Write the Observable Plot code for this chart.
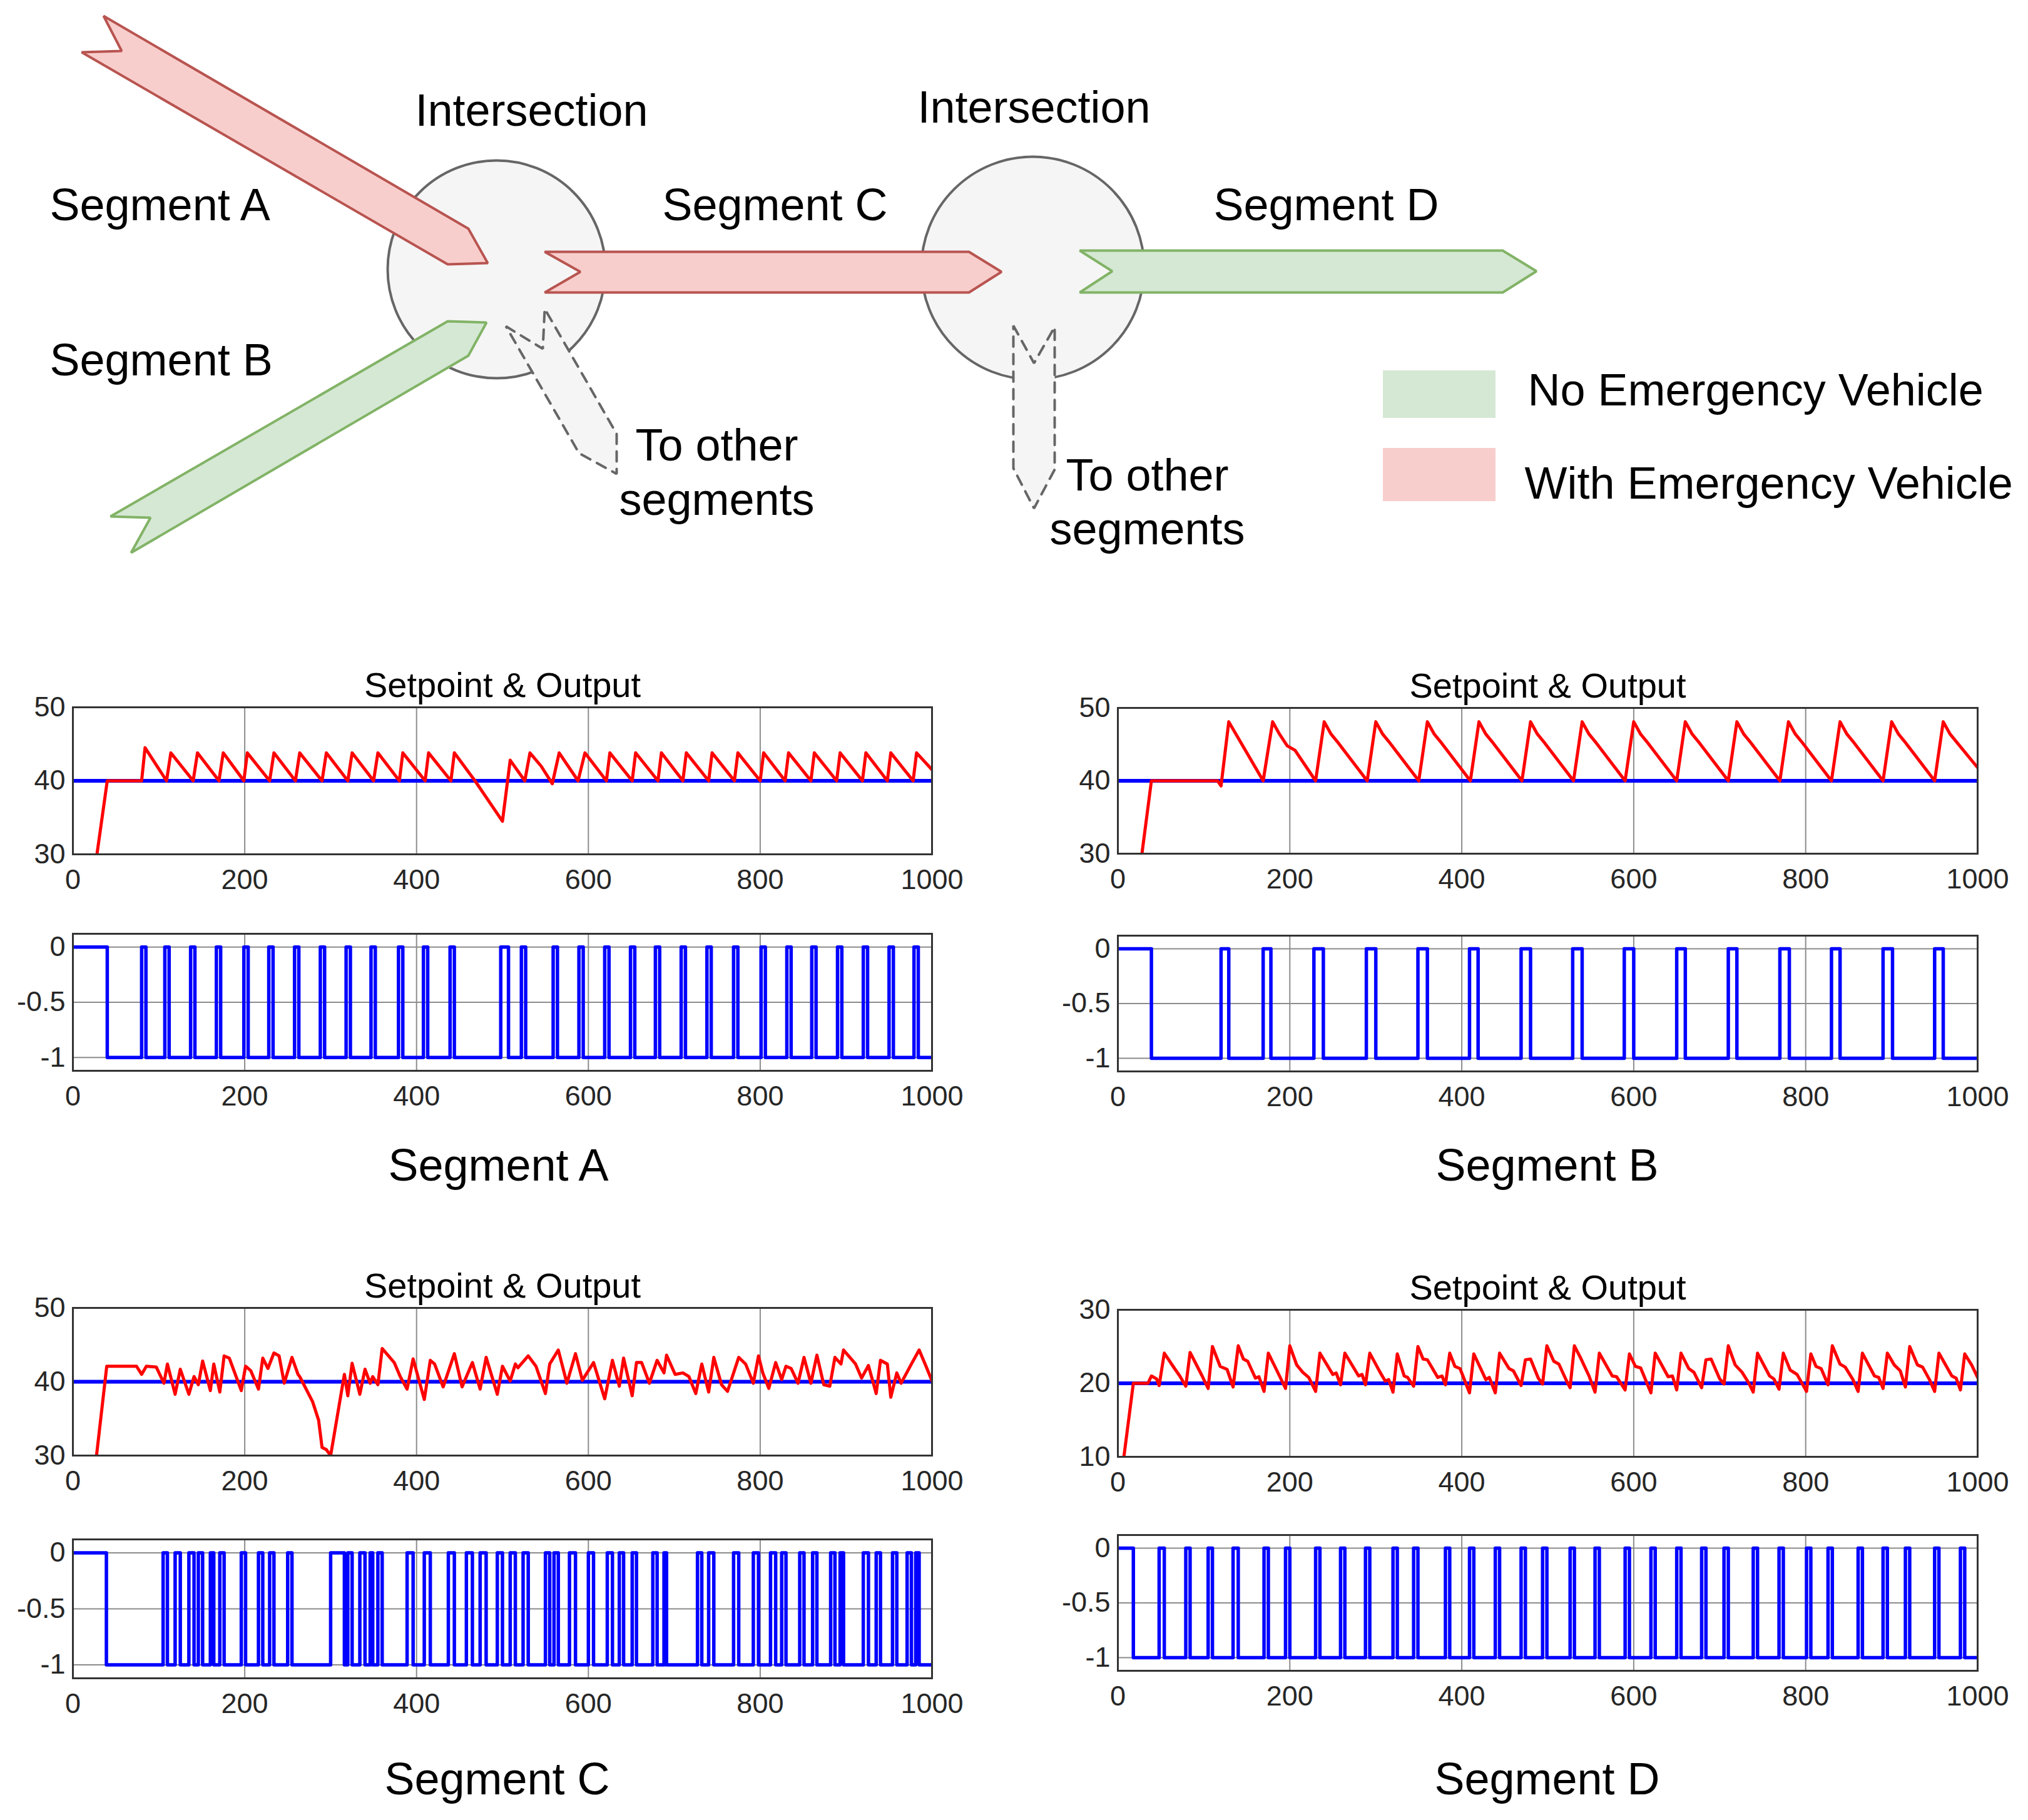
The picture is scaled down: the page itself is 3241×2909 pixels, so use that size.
<!DOCTYPE html>
<html><head><meta charset="utf-8">
<script src="https://cdn.jsdelivr.net/npm/d3@7"></script>
<script src="https://cdn.jsdelivr.net/npm/@observablehq/plot@0.6"></script>
<style>
html,body{margin:0;padding:0;background:#fff;}
#page{position:relative;width:3241px;height:2909px;background:#fff;overflow:hidden;}
#page svg{position:absolute;overflow:visible;}
</style></head><body><div id="page"></div>
<script>
const FONT = '"Liberation Sans", Arial, Helvetica, sans-serif';
const W = 3241, H = 2909;

// ---------------- Diagram data ----------------
const intersections = [{x: 793, y: 430, r: 174}, {x: 1650, y: 428, r: 178}];
const arrowA = [[165,25],[748,365],[779,420],[715,422],[130,83],[194,81]];
const arrowB = [[176,825],[715,513],[777,515],[748,568],[209,883],[240,827]];
const arrowC = [[870,402],[1548,402],[1600,434],[1548,467],[870,467],[927,434]];
const arrowD = [[1725,400],[2401,400],[2455,433],[2401,467],[1725,467],[1777,433]];
const otherA = [[808,521],[867,557],[870,493],[985,693],[985,757],[925,724]];
const otherB = [[1619,520],[1652,580],[1685,522],[1685,750],[1652,812],[1619,748]];
const legendItems = [
  {label: "No Emergency Vehicle", fill: "#d5e8d4", x1: 2210, x2: 2390, y1: 592, y2: 668, tx: 2441, ty: 624},
  {label: "With Emergency Vehicle", fill: "#f8cecc", x1: 2210, x2: 2390, y1: 716, y2: 801, tx: 2436, ty: 773}
];
const leftLabels = [
  {text: "Segment A", x: 79, y: 328},
  {text: "Segment B", x: 79, y: 576}
];
const centerLabels = [
  {text: "Intersection", x: 849, y: 177},
  {text: "Intersection", x: 1652, y: 172},
  {text: "Segment C", x: 1238, y: 328},
  {text: "Segment D", x: 2119, y: 328},
  {text: "To other", x: 1145, y: 712},
  {text: "segments", x: 1145, y: 799},
  {text: "To other", x: 1833, y: 760},
  {text: "segments", x: 1833, y: 846},
  {text: "Segment A", x: 796, y: 1863},
  {text: "Segment B", x: 2472, y: 1863},
  {text: "Segment C", x: 794, y: 2844},
  {text: "Segment D", x: 2472, y: 2844}
];

// ---------------- Chart data ----------------
const xTicks = [0, 200, 400, 600, 800, 1000];
const outTicks = [30, 40, 50];
const outTicksD = [10, 20, 30];
const ctrlTicks = [-1, -0.5, 0];
const setpointABC = 40;
const setpointD = 20;

const outputA = [[28,30],[40,40],[80,40],[84,44.5],
[109,40],[114,43.8],[140,40],[145,43.8],[170,40],[175,43.8],[199,40],[203,43.8],[229,40],[234,43.8],[259,40],[264,43.8],[290,40],[295,43.8],[320,40],[325,43.8],[350,40],[355,43.8],[380,40],[384,43.8],[410,40],[414,43.8],[440,40],[444,43.8],
[468,40],[500,34.5],[509,42.8],[526,40],[532,43.8],[545,42],[558,39.6],[566,43.8],[588,40],[596,43.8],[621,40],[625,43.8],[651,40],[655,43.8],[681,40],[685,43.8],[710,40],[714,43.8],[740,40],[744,43.8],[770,40],[774,43.8],[800,40],[804,43.8],[829,40],[833,43.8],[859,40],[863,43.8],[889,40],[893,43.8],[919,40],[923,43.8],[948,40],[952,43.8],[978,40],[982,43.8],[1000,41.5]];
const ctrlA_firstOff = 40;
const pulsesA = [[80,85],[107,112],[137,142],[167,172],[199,204],[228,233],[258,263],[288,293],[318,323],[347,352],[379,384],[408,413],[439,444],[498,507],[522,527],[559,564],[589,594],[619,624],[649,654],[678,683],[708,713],[738,743],[769,774],[801,806],[831,836],[860,865],[890,895],[920,925],[950,955],[979,984]];

const outputB = [[28,30],[39,40],[116,40],[120,39.3],[129,48.1],[169,40],
[180,48.1],[188,46.4],[197,44.8],[206,44.2],[230,40],
[240,48.1],[248,46.4],[255,45.4],[290,40],
[300,48.1],[308,46.4],[315,45.4],[350,40],
[360,48.1],[368,46.4],[375,45.4],[410,40],
[420,48.1],[428,46.4],[435,45.4],[470,40],
[480,48.1],[488,46.4],[495,45.4],[530,40],
[540,48.1],[548,46.4],[555,45.4],[590,40],
[600,48.1],[608,46.4],[615,45.4],[650,40],
[660,48.1],[668,46.4],[675,45.4],[710,40],
[720,48.1],[728,46.4],[735,45.4],[770,40],
[780,48.1],[788,46.4],[795,45.4],[830,40],
[840,48.1],[848,46.4],[855,45.4],[890,40],
[900,48.1],[908,46.4],[915,45.4],[950,40],
[960,48.1],[968,46.4],[975,45.4],[1000,41.8]];
const ctrlB_firstOff = 39;
const pulsesB = [[120,129],[169,178],[228,239],[289,300],[349,360],[409,419],[469,480],[529,540],[589,600],[650,660],[710,720],[770,781],[830,840],[890,901],[950,960]];

const outputC = [[27.5,30],[39.4,42.1],[74,42.1],[80,41],[85.5,42.1],[97,42],[106,39.8],[110,42.4],[119,38.3],[125,41.7],[135,38.3],[141,40.7],[146,39.6],[151,42.8],[160,38.8],[164,42.4],[171,38.6],[176,43.5],[182,43.2],[196,38.8],[201,42.1],[207,41.5],[216,39],[221,43.2],[227,41.8],[234,43.9],[240,43.5],[246,39.8],[255,43.3],[262,41],[264,40.7],[279,37.3],[286,34.8],[290,31.1],[295,30.8],[300,30],[316,41],[320,38.1],[325,42.5],[334,38.3],[340,41.7],[346,39.8],[349,40.7],[355,39.6],[360,44.5],[374,42.6],[381,40.7],[389,39],[396,43.1],[409,37.6],[416,42.9],[421,42.4],[431,39.3],[444,43.8],[453,39.3],[465,42.6],[474,39],[481,43.3],[494,38.3],[500,42.1],[509,40.1],[515,42.4],[518,41.9],[530,43.5],[539,42.1],[550,38.4],[555,42.4],[565,44.3],[575,39.8],[585,43.8],[593,40.2],[606,42.6],[619,37.7],[628,42.9],[636,39.4],[641,43.2],[651,38.1],[656,42.6],[662,42.6],[671,39.8],[680,42.9],[688,41.2],[691,43.6],[701,41],[710,41.2],[717,40.7],[725,38.4],[732,42.4],[740,38.6],[746,43.3],[755,39.6],[762,38.7],[775,43.3],[783,42.4],[792,39.8],[798,43.5],[803,41.2],[810,39.1],[818,42.6],[825,40.3],[830,42.1],[836,41.8],[844,39.8],[851,43.3],[859,39.8],[866,43.6],[874,39.6],[881,39.4],[887,43.3],[894,42.4],[897,44.3],[911,42.4],[918,40.5],[926,42.2],[935,38.4],[940,42.9],[948,42.4],[952,37.9],[959,41.2],[964,39.8],[976,42.4],[985,44.3],[993,42.1],[1000,40.1]];
const ctrlC_firstOff = 39;
const pulsesC = [[105,110],[119,125],[135,141],[146,151],[160,164],[171,176],[196,201],[216,221],[229,234],[250,255],[300,316],[320,325],[334,340],[346,349],[355,360],[389,396],[409,416],[437,444],[458,465],[474,481],[494,500],[509,515],[524,530],[550,555],[560,565],[578,585],[600,606],[622,628],[636,641],[651,656],[675,680],[688,691],[727,732],[740,746],[769,775],[792,798],[812,818],[825,830],[846,851],[861,866],[882,887],[893,897],[920,926],[935,940],[954,959],[971,976],[981,985]];

const outputD = [[7,10],[18,20],[35,20],[39,21],[45,20.6],[48,19.7],
[54,24.1],[66,22],[72,21],[79,19.6],
[84,24.2],[98,21],[105,19.3],
[110,25],[119,22.3],[127,21.9],[134,19.5],
[140,25.1],[146,23.3],[151,23],[160,20.7],[164,20.9],[170,18.9],
[175,24.1],[188,21],[195,19.3],
[200,25.1],[208,22.5],[215,21.5],[222,20.8],[230,18.9],
[235,24.1],[250,21.2],[254,21.4],[259,19.8],
[264,24.1],[280,21],[284,21.2],[288,19.8],
[293,24.1],[305,21.5],[311,20.3],[315,20.5],[320,18.8],
[325,24.0],[333,21],[337,20.8],[344,19.6],
[349,25.0],[355,23.3],[360,23.2],[372,20.8],[377,21],[381,19.8],
[386,24.1],[392,22.3],[398,22],[409,18.7],
[414,24.0],[428,20.5],[432,20.8],[439,18.7],
[444,24.1],[455,22],[460,21.7],[469,19.7],
[474,23.2],[480,23.3],[489,20.7],[494,19.9],
[499,25.1],[507,23],[513,22.6],[522,20.3],[526,19.4],
[531,25.1],[538,23.5],[548,21],[555,18.8],
[560,24.1],[575,21],[580,20.9],[590,19.1],
[595,24],[602,22.3],[608,22.1],[620,18.7],
[625,24.1],[640,20.9],[645,21],[650,19.1],
[655,24.1],[664,22],[670,21.5],[679,19.4],
[684,23.2],[690,23.3],[700,20.6],[705,19.9],
[710,25.1],[718,22.5],[726,21.5],[734,20],[739,18.8],
[744,24.1],[758,21],[763,20.6],[769,19.2],
[774,24.1],[782,21.8],[790,21.2],[801,18.9],
[806,24],[812,22.3],[818,22],[826,19.8],
[831,25.1],[840,22.6],[846,22.2],[855,20.5],[861,18.9],
[866,24.1],[880,21],[885,20.8],[890,19.3],
[895,24.1],[903,22.5],[910,21.7],[916,19.5],
[921,25],[930,22.5],[936,22.2],[944,20.5],[950,18.9],
[955,24.1],[970,21],[975,20.7],[980,19.1],
[985,24.0],[993,22.5],[1000,20.8]];
const ctrlD_firstOff = 18;
const pulsesD = [[48,54],[79,84],[105,110],[134,140],[170,175],[195,200],[230,235],[259,264],[288,293],[320,325],[344,349],[381,386],[409,414],[439,444],[469,474],[494,499],[526,531],[555,560],[590,595],[620,625],[650,655],[679,684],[705,710],[739,744],[769,774],[801,806],[826,831],[861,866],[890,895],[916,921],[950,955],[980,985]];

// ---------------- Build page ----------------
const page = document.getElementById("page");

function poly(points, fill, stroke, dash) {
  const data = points.map(([x, y]) => ({x, y}));
  return Plot.line(data, {x: "x", y: "y", curve: "linear-closed", fill, stroke, strokeWidth: 4,
    strokeLinejoin: "miter", strokeDasharray: dash || null});
}

const diagram = Plot.plot({
  width: W, height: H, margin: 0,
  x: {domain: [0, W], range: [0, W], axis: null},
  y: {domain: [0, H], range: [0, H], axis: null},
  r: {type: "identity"},
  style: {background: "transparent", fontFamily: FONT},
  marks: [
    Plot.dot(intersections, {x: "x", y: "y", r: "r", fill: "#f5f5f5", stroke: "#666666", strokeWidth: 4}),
    poly(otherA, "#f5f5f5", "#666666", "16,12"),
    poly(otherB, "#f5f5f5", "#666666", "16,12"),
    poly(arrowA, "#f8cecc", "#b85450"),
    poly(arrowB, "#d5e8d4", "#82b366"),
    poly(arrowC, "#f8cecc", "#b85450"),
    poly(arrowD, "#d5e8d4", "#82b366"),
    Plot.rect(legendItems, {x1: "x1", x2: "x2", y1: "y1", y2: "y2", fill: "fill"}),
    Plot.text(legendItems, {x: "tx", y: "ty", text: "label", textAnchor: "start", fontSize: 72, fill: "#000"}),
    Plot.text(leftLabels, {x: "x", y: "y", text: "text", textAnchor: "start", fontSize: 72, fill: "#000"}),
    Plot.text(centerLabels, {x: "x", y: "y", text: "text", textAnchor: "middle", fontSize: 72, fill: "#000"})
  ]
});
diagram.style.left = "0px"; diagram.style.top = "0px";
page.append(diagram);

function stepSeries(firstOff, pulses) {
  const pts = [{t: 0, v: 0}, {t: firstOff, v: -1}];
  for (const [s, e] of pulses) { pts.push({t: s, v: 0}); pts.push({t: e, v: -1}); }
  pts.push({t: 1000, v: -1});
  return pts;
}

function panel(cfg) {
  const ML = 130, MR = 80, MT = 100, MB = 90;
  const w = cfg.x1 - cfg.x0, h = cfg.y1 - cfg.y0;
  const svg = Plot.plot({
    width: w + ML + MR, height: h + MT + MB,
    marginLeft: ML, marginRight: MR, marginTop: MT, marginBottom: MB,
    x: {domain: [0, 1000], label: null},
    y: {domain: cfg.yDomain, label: null},
    style: {background: "transparent", fontFamily: FONT, fontSize: "45px", color: "#262626"},
    marks: [
      Plot.gridX(xTicks.slice(1, -1), {stroke: "#8c8c8c", strokeOpacity: 1, strokeWidth: 2}),
      Plot.gridY(cfg.yTicks, {stroke: "#8c8c8c", strokeOpacity: 1, strokeWidth: 2}),
      ...cfg.marks,
      Plot.frame({stroke: "#333333", strokeWidth: 3}),
      Plot.axisX(xTicks, {tickSize: 0, tickPadding: 24, tickFormat: d => String(d), fontSize: 45, label: null}),
      Plot.axisY(cfg.yTicks, {tickSize: 0, tickPadding: 12, tickFormat: d => String(d), fontSize: 45, label: null}),
      cfg.title ? Plot.text([cfg.title], {frameAnchor: "top", dy: -17, lineAnchor: "bottom", fontSize: 56, fill: "#000"}) : null
    ]
  });
  svg.style.left = (cfg.x0 - ML) + "px";
  svg.style.top = (cfg.y0 - MT) + "px";
  page.append(svg);
}

function outputPanel(x0, x1, y0, y1, data, sp, dom, ticks) {
  const pts = data.map(([t, v]) => ({t, v}));
  panel({x0, x1, y0, y1, yDomain: dom, yTicks: ticks, title: "Setpoint & Output",
    marks: [
      Plot.ruleY([sp], {stroke: "#0000ff", strokeWidth: 6}),
      Plot.line(pts, {x: "t", y: "v", stroke: "#ff0000", strokeWidth: 5, clip: true})
    ]});
}
function ctrlPanel(x0, x1, y0, y1, firstOff, pulses) {
  panel({x0, x1, y0, y1, yDomain: [-1.12, 0.12], yTicks: ctrlTicks,
    marks: [
      Plot.line(stepSeries(firstOff, pulses), {x: "t", y: "v", stroke: "#0000ff", strokeWidth: 5.5, curve: "step-after", clip: true})
    ]});
}

outputPanel(116, 1489, 1130, 1365, outputA, setpointABC, [30, 50], outTicks);
ctrlPanel(116, 1489, 1492, 1711, ctrlA_firstOff, pulsesA);
outputPanel(1786, 3160, 1131, 1364, outputB, setpointABC, [30, 50], outTicks);
ctrlPanel(1786, 3160, 1495, 1712, ctrlB_firstOff, pulsesB);
outputPanel(116, 1489, 2090, 2326, outputC, setpointABC, [30, 50], outTicks);
ctrlPanel(116, 1489, 2460, 2682, ctrlC_firstOff, pulsesC);
outputPanel(1786, 3160, 2093, 2328, outputD, setpointD, [10, 30], outTicksD);
ctrlPanel(1786, 3160, 2453, 2670, ctrlD_firstOff, pulsesD);
</script></body></html>
